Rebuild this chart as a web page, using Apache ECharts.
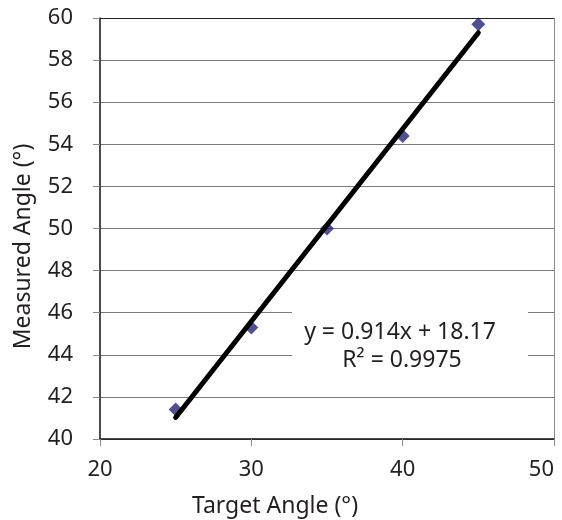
<!DOCTYPE html>
<html>
<head>
<meta charset="utf-8">
<script src="https://cdn.jsdelivr.net/npm/echarts@6/dist/echarts.min.js"></script>
<style>
  html, body { margin: 0; padding: 0; background: #fff; }
  #chart { width: 562px; height: 520px; }
</style>
</head>
<body>
<div id="chart"></div>
<script>
// Measured vs. target angle, with linear fit
const targetAngles = [25, 30, 35, 40, 45];
const measuredAngles = [41.4, 45.3, 50.0, 54.4, 59.7];

// Fit coefficients as printed on the chart
const fitSlope = 0.914;
const fitIntercept = 18.17;
const fitR2 = 0.9975;

const xTicks = [20, 30, 40, 50];
const yTicks = [40, 42, 44, 46, 48, 50, 52, 54, 56, 58, 60];

const FONT = '"Noto Sans", sans-serif';
const FS = 22;        // tick labels
const FS_TITLE = 23;  // axis titles and fit equation
const TEXT = '#231f20';

const points = targetAngles.map((x, i) => [x, measuredAngles[i]]);
const xFirst = targetAngles[0];
const xLast = targetAngles[targetAngles.length - 1];
const fitLine = [
  [xFirst, fitSlope * xFirst + fitIntercept],
  [xLast, fitSlope * xLast + fitIntercept]
];

const chart = echarts.init(document.getElementById('chart'), null, { renderer: 'canvas' });

// grid line colours: grey, the top one dark like the frame
const yGridColors = yTicks.map((v, i) => (i === yTicks.length - 1 ? '#222' : '#7a7a7a'));
// only the right-hand frame edge is drawn vertically
const xGridColors = xTicks.map((v, i) => (i === xTicks.length - 1 ? '#8a8a8a' : 'rgba(0,0,0,0)'));

chart.setOption({
  animation: false,
  backgroundColor: '#fff',
  grid: { left: 100, right: 8, top: 18, bottom: 81, outerBoundsMode: 'none', containLabel: false },
  xAxis: {
    type: 'value',
    min: xTicks[0],
    max: xTicks[xTicks.length - 1],
    interval: 10,
    name: 'Target Angle (°)',
    nameLocation: 'middle',
    nameGap: 56,
    nameTextStyle: { fontFamily: FONT, fontSize: FS_TITLE, color: TEXT, padding: [0, 104, 0, 0] },
    axisLine: { show: true, onZero: false, lineStyle: { color: '#111', width: 1.5 } },
    axisTick: { show: true, length: 7, lineStyle: { color: '#888' } },
    axisLabel: { fontFamily: FONT, fontSize: FS, color: TEXT, margin: 20, alignMaxLabel: 'right' },
    splitLine: { show: true, lineStyle: { color: xGridColors, width: 1 } }
  },
  yAxis: {
    type: 'value',
    min: yTicks[0],
    max: yTicks[yTicks.length - 1],
    interval: 2,
    name: 'Measured Angle (°)',
    nameLocation: 'middle',
    nameGap: 65,
    nameRotate: 90,
    nameTextStyle: { fontFamily: FONT, fontSize: FS_TITLE, color: TEXT, padding: [0, 36, 0, 0] },
    axisLine: { show: true, onZero: false, lineStyle: { color: '#111', width: 1.5 } },
    axisTick: { show: true, length: 7, lineStyle: { color: '#888' } },
    axisLabel: { fontFamily: FONT, fontSize: FS, color: TEXT, margin: 27 },
    splitLine: { show: true, lineStyle: { color: yGridColors, width: 1 } }
  },
  graphic: [
    {
      type: 'rect',
      left: 292, top: 300,
      shape: { width: 236, height: 90 },
      style: { fill: '#fff' },
      z: 100
    },
    {
      type: 'text',
      x: 400, y: 332,
      style: {
        text: 'y = ' + fitSlope.toFixed(3) + 'x + ' + fitIntercept.toFixed(2),
        font: FS_TITLE + 'px ' + FONT, fill: TEXT, align: 'center', verticalAlign: 'middle'
      },
      z: 101
    },
    {
      type: 'text',
      x: 402, y: 360,
      style: {
        text: 'R² = ' + fitR2.toFixed(4),
        font: FS_TITLE + 'px ' + FONT, fill: TEXT, align: 'center', verticalAlign: 'middle'
      },
      z: 101
    }
  ],
  series: [
    {
      name: 'Measured',
      type: 'scatter',
      data: points,
      symbol: 'diamond',
      symbolSize: [14, 14],
      itemStyle: { color: '#262673' },
      z: 3
    },
    {
      name: 'Linear fit',
      type: 'line',
      data: fitLine,
      showSymbol: false,
      symbol: 'none',
      lineStyle: { color: '#000', width: 5, cap: 'round' },
      z: 4
    }
  ]
});
</script>
</body>
</html>
